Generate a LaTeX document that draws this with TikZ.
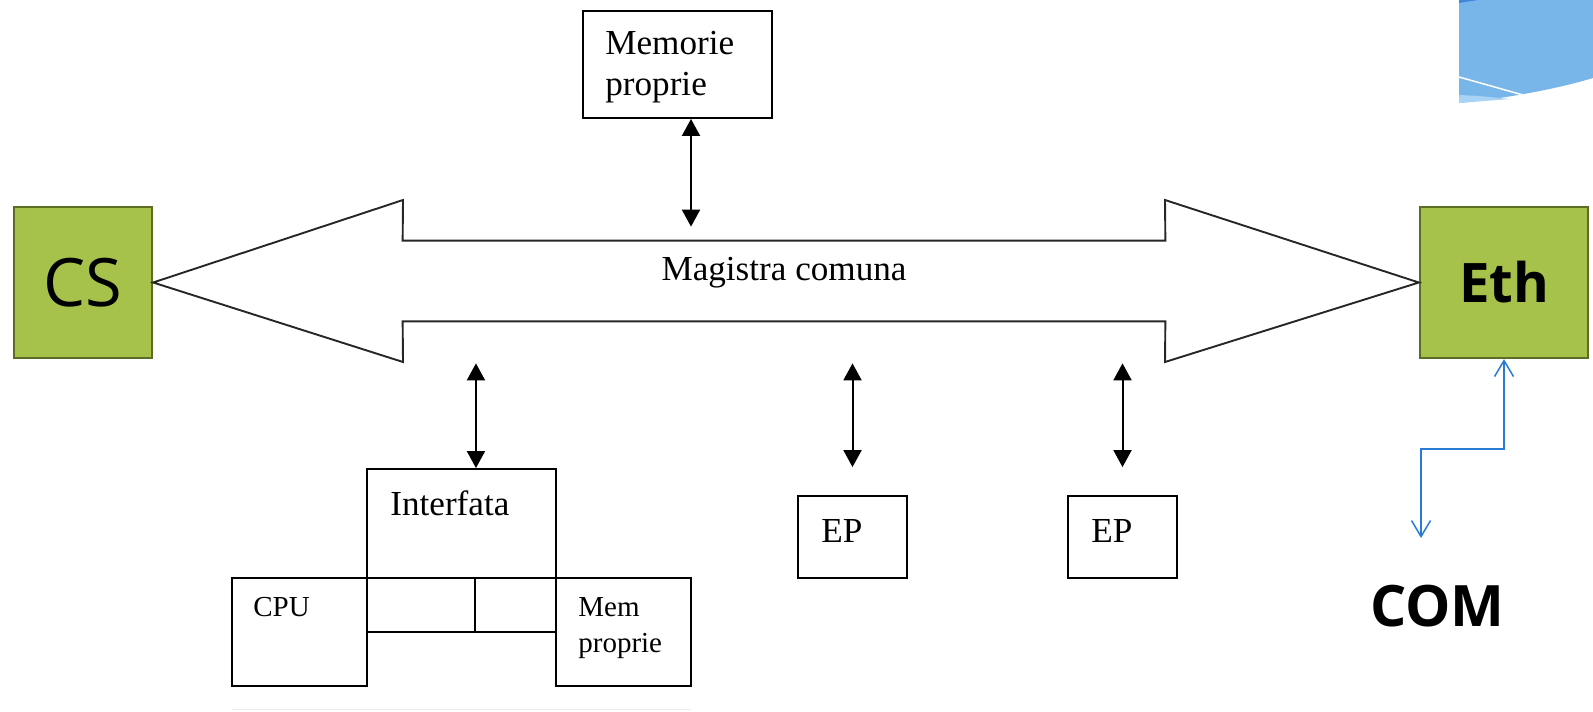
\documentclass[tikz,border=0pt]{standalone}
\usepackage{fontspec}
\setmainfont{Liberation Serif}
\newfontfamily\segoe{Open Sans}
\usepackage{tikz}
\usetikzlibrary{arrows.meta}
\definecolor{olivelt}{HTML}{A6C24A}
\definecolor{olivedk}{HTML}{5B6E23}
\definecolor{linkblue}{HTML}{2A7BD3}
\definecolor{wavemid}{HTML}{78B6EA}
\definecolor{wavelt}{HTML}{A9D3F5}
\definecolor{wavedk}{HTML}{3F88D8}

\begin{document}
\begin{tikzpicture}[x=0.2mm, y=-0.2mm,
		box/.style={draw, line width=0.38mm, inner sep=0pt},
		greenbox/.style={draw=olivedk, fill=olivelt, line width=0.45mm, inner sep=0pt},
		txt/.style={inner sep=0pt, anchor=base west, align=left, font=\fontsize{20}{22.8}\selectfont},
		smalltxt/.style={txt, font=\fontsize{16.5}{20}\selectfont},
		biarrow/.style={{Triangle[length=3.4mm,width=3.6mm]}-{Triangle[length=3.4mm,width=3.6mm]}, line width=0.4mm},
		bluearrow/.style={{Straight Barb[length=3.2mm,width=3.8mm]}-{Straight Barb[length=3.2mm,width=3.8mm]}, draw=linkblue, line width=0.3mm}]
			\useasboundingbox (0,0) rectangle (1593,711);
			
			\fill[wavemid] (1459,0) -- (1593,0) -- (1593,78) .. controls (1560,88) and (1510,98) .. (1459,103) -- cycle;
			\fill[wavelt] (1459,95) .. controls (1480,96) .. (1510,99) -- (1459,103) -- cycle;
			\draw[white, line width=0.3mm] (1459,77) -- (1523,95);
			\fill[wavedk] (1459,0) -- (1459,3) -- (1478,0) -- cycle;
			
			\node[greenbox, minimum width=27.6mm, minimum height=30.2mm, font=\segoe\fontsize{38}{42}\selectfont] (cs) at (83,282.5) {CS};
			\node[greenbox, minimum width=33.6mm, minimum height=30.2mm, font=\segoe\bfseries\fontsize{31}{35}\selectfont] (eth) at (1504,282.5) {Eth};
			
			\node[minimum width=152.4mm, minimum height=16mm, inner sep=0pt] (bus) at (784,281) {};
			\draw[black!85, line width=0.38mm] (cs.east) -- (403,200) -- (bus.north west) -- (bus.north east) -- (1165,200) -- (eth.west) -- (1165,362) -- (bus.south east) -- (bus.south west) -- (403,362) -- cycle;
			\node[txt, anchor=base] (buslbl) at (784,280) {Magistra comuna};
			
			\node[box, minimum width=37.8mm, minimum height=21.4mm] (mem) at (677.5,64.5) {};
			\node[txt] (memlbl) at (605,95) {Memorie\\proprie};
			
			\node[box, minimum width=37.8mm, minimum height=21.8mm] (interf) at (461.5,523.5) {};
			\node[txt] (interflbl) at (390,515) {Interfata};
			\node[box, minimum width=27mm, minimum height=21.6mm] (cpu) at (299.5,632) {};
			\node[smalltxt] (cpulbl) at (253,616) {CPU};
			\node[box, minimum width=27mm, minimum height=21.6mm] (memp) at (623.5,632) {};
			\node[smalltxt] (memplbl) at (578,652) {Mem\\proprie};
			\node[box, minimum width=21.6mm, minimum height=10.8mm] (slotA) at (421,605) {};
			\node[box, minimum width=16.2mm, minimum height=10.8mm] (slotB) at (515.5,605) {};
			
			\node[box, minimum width=21.8mm, minimum height=16.4mm] (ep1) at (852.5,537) {};
			\node[txt] (ep1lbl) at (821,542) {EP};
			\node[box, minimum width=21.8mm, minimum height=16.4mm] (ep2) at (1122.5,537) {};
			\node[txt] (ep2lbl) at (1091,542) {EP};
			
			\draw[biarrow, shorten >=2.8mm] ([xshift=2.7mm]mem.south) -- ([xshift=2.7mm]mem.south |- bus.north);
			\draw[biarrow, shorten <=8.4mm] (slotA.east |- bus.south) -- (slotA.east |- interf.north);
			\draw[biarrow, shorten <=8.4mm, shorten >=5.6mm] (ep1.north |- bus.south) -- (ep1.north);
			\draw[biarrow, shorten <=8.4mm, shorten >=5.6mm] (ep2.north |- bus.south) -- (ep2.north);
			
			\coordinate (comend) at (1421,538);
			\draw[bluearrow] (eth.south) -- ++(0,90) -| (comend);
			\node[inner sep=0pt, anchor=base, font=\segoe\bfseries\fontsize{32.5}{36}\selectfont] (com) at (1437.5,626) {COM};
			
			\draw[black!8, line width=0.3mm] (232,709.5) -- (691,709.5);
		\end{tikzpicture}
\end{document}
